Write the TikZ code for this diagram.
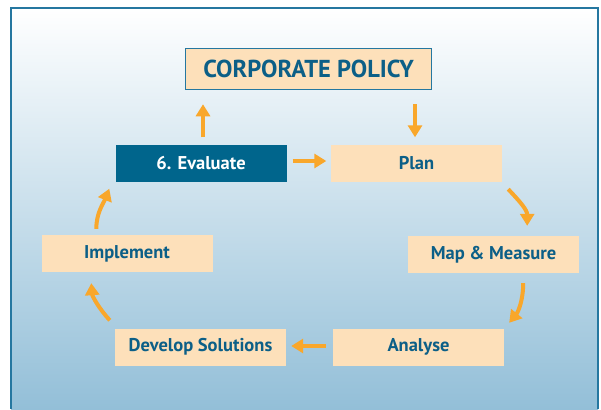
\documentclass[tikz,border=0pt]{standalone}
\usepackage{fontspec}
\usepackage{tikz}
\usetikzlibrary{arrows.meta,calc}
\newfontfamily\boxfont{PT Sans}
\definecolor{frame_blue}{HTML}{2577A0}
\definecolor{bg_blue}{HTML}{93BFD8}
\definecolor{box_peach}{HTML}{FDE0BA}
\definecolor{dark_teal}{HTML}{00658C}
\definecolor{text_teal}{HTML}{0C5F87}
\definecolor{arrow_orange}{HTML}{F9A72B}

\begin{document}
\begin{tikzpicture}[x=1pt, y=-1pt,
	stage/.style={fill=box_peach, minimum width=171pt, minimum height=37pt, inner sep=0pt,
		text=text_teal, font=\boxfont\bfseries\fontsize{18.5}{22}\selectfont},
	flow/.style={arrow_orange, line width=4pt, -{Triangle[length=12pt, width=14pt]}}]
	\useasboundingbox (0, 0) rectangle (601, 409);
	\shade[top color=white, bottom color=bg_blue] (11, 8) rectangle (598, 409);
	\draw[frame_blue, line width=1.6pt] (11, 409) -- (11, 8) -- (598, 8) -- (598, 409);
	\node[draw=frame_blue, line width=1.5pt, fill=box_peach, minimum width=246pt, minimum height=41pt,
		text=text_teal, font=\boxfont\bfseries\fontsize{24.5}{28}\selectfont] (policy) at (308.5, 69) {CORPORATE POLICY};
	\node[stage, fill=dark_teal, text=white] (evaluate) at (201, 163) {6. Evaluate};
	\node[stage] (plan) at (416.5, 163) {Plan};
	\node[stage] (map) at (493.5, 254.5) {Map \& Measure};
	\node[stage] (analyse) at (418.5, 347) {Analyse};
	\node[stage] (develop) at (200.5, 347) {Develop Solutions};
	\node[stage] (implement) at (127, 253.5) {Implement};
	\draw[flow] ($(policy.south)+(106.5, 14)$) -- ($(plan.north)+(-1.5, -7)$);
	\draw[flow] ($(evaluate.north)+(2, -7)$) -- ($(policy.south)+(-105.5, 14)$);
	\draw[flow] ($(evaluate.east)+(6, -2)$) -- ($(plan.west)+(-4.5, -2)$);
	\draw[flow] ($(plan.south east)+(6, 7.5)$) .. controls ($(plan.south east)+(17, 19)$) and ($(map.north east)+(-52, -26)$) .. ($(map.north east)+(-52, -10)$);
	\draw[flow] ($(map.south east)+(-56, 10)$) .. controls ($(map.south east)+(-56, 27)$) and ($(analyse.north east)+(14, -16.5)$) .. ($(analyse.north east)+(5, -5.5)$);
	\draw[flow] ($(analyse.west)+(-7, -1)$) -- ($(develop.east)+(5, -1)$);
	\draw[flow] ($(develop.north west)+(-5, -8)$) .. controls ($(develop.north west)+(-16, -20)$) and ($(implement.south west)+(51, 24)$) .. ($(implement.south west)+(50, 11)$);
	\draw[flow] ($(implement.north west)+(55, -6)$) .. controls ($(implement.north west)+(55, -22)$) and ($(evaluate.south west)+(-12, 22)$) .. ($(evaluate.south west)+(-6, 7)$);
\end{tikzpicture}
\end{document}
